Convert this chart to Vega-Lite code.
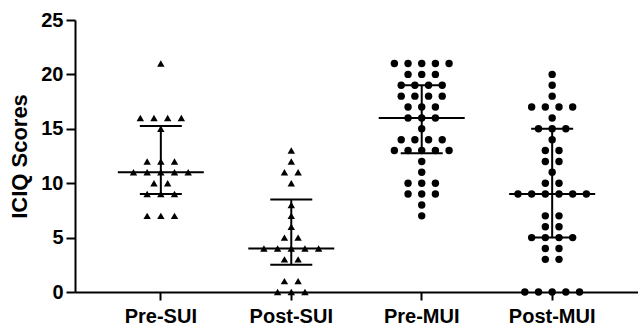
{
  "$schema": "https://vega.github.io/schema/vega-lite/v6.json",
  "width": 563,
  "height": 272,
  "autosize": {"type": "none"},
  "padding": {"left": 75, "top": 20, "right": 0, "bottom": 34},
  "config": {
    "view": {"stroke": null},
    "font": "Liberation Sans",
    "axis": {
      "domainColor": "#000000",
      "domainWidth": 2,
      "tickColor": "#000000",
      "tickWidth": 2,
      "labelColor": "#000000",
      "labelFont": "Liberation Sans",
      "labelFontSize": 20,
      "labelFontWeight": "bold",
      "titleColor": "#000000",
      "titleFont": "Liberation Sans",
      "titleFontSize": 22,
      "titleFontWeight": "bold",
      "grid": false
    }
  },
  "datasets": {
    "points": [
      {"g": "Pre-SUI", "v": 21, "s": 0},
      {"g": "Pre-SUI", "v": 16, "s": -1.5},
      {"g": "Pre-SUI", "v": 16, "s": -0.5},
      {"g": "Pre-SUI", "v": 16, "s": 0.5},
      {"g": "Pre-SUI", "v": 16, "s": 1.5},
      {"g": "Pre-SUI", "v": 15, "s": 0},
      {"g": "Pre-SUI", "v": 12, "s": -1},
      {"g": "Pre-SUI", "v": 12, "s": 0},
      {"g": "Pre-SUI", "v": 12, "s": 1},
      {"g": "Pre-SUI", "v": 11, "s": -2},
      {"g": "Pre-SUI", "v": 11, "s": -1},
      {"g": "Pre-SUI", "v": 11, "s": 0},
      {"g": "Pre-SUI", "v": 11, "s": 1},
      {"g": "Pre-SUI", "v": 11, "s": 2},
      {"g": "Pre-SUI", "v": 10, "s": -0.5},
      {"g": "Pre-SUI", "v": 10, "s": 0.5},
      {"g": "Pre-SUI", "v": 9, "s": -1},
      {"g": "Pre-SUI", "v": 9, "s": 0},
      {"g": "Pre-SUI", "v": 9, "s": 1},
      {"g": "Pre-SUI", "v": 7, "s": -1},
      {"g": "Pre-SUI", "v": 7, "s": 0},
      {"g": "Pre-SUI", "v": 7, "s": 1},

      {"g": "Post-SUI", "v": 13, "s": 0},
      {"g": "Post-SUI", "v": 12, "s": 0},
      {"g": "Post-SUI", "v": 11, "s": -0.5},
      {"g": "Post-SUI", "v": 11, "s": 0.5},
      {"g": "Post-SUI", "v": 10, "s": 0},
      {"g": "Post-SUI", "v": 8, "s": 0},
      {"g": "Post-SUI", "v": 7, "s": 0},
      {"g": "Post-SUI", "v": 6, "s": 0},
      {"g": "Post-SUI", "v": 5, "s": -0.5},
      {"g": "Post-SUI", "v": 5, "s": 0.5},
      {"g": "Post-SUI", "v": 4, "s": -2},
      {"g": "Post-SUI", "v": 4, "s": -1},
      {"g": "Post-SUI", "v": 4, "s": 0},
      {"g": "Post-SUI", "v": 4, "s": 1},
      {"g": "Post-SUI", "v": 4, "s": 2},
      {"g": "Post-SUI", "v": 3, "s": -0.5},
      {"g": "Post-SUI", "v": 3, "s": 0.5},
      {"g": "Post-SUI", "v": 1, "s": -0.5},
      {"g": "Post-SUI", "v": 1, "s": 0.5},
      {"g": "Post-SUI", "v": 0, "s": -1},
      {"g": "Post-SUI", "v": 0, "s": 0},
      {"g": "Post-SUI", "v": 0, "s": 1},

      {"g": "Pre-MUI", "v": 21, "s": -2},
      {"g": "Pre-MUI", "v": 21, "s": -1},
      {"g": "Pre-MUI", "v": 21, "s": 0},
      {"g": "Pre-MUI", "v": 21, "s": 1},
      {"g": "Pre-MUI", "v": 21, "s": 2},
      {"g": "Pre-MUI", "v": 20, "s": -1},
      {"g": "Pre-MUI", "v": 20, "s": 0},
      {"g": "Pre-MUI", "v": 20, "s": 1},
      {"g": "Pre-MUI", "v": 19, "s": -1.5},
      {"g": "Pre-MUI", "v": 19, "s": -0.5},
      {"g": "Pre-MUI", "v": 19, "s": 0.5},
      {"g": "Pre-MUI", "v": 19, "s": 1.5},
      {"g": "Pre-MUI", "v": 18, "s": -1.5},
      {"g": "Pre-MUI", "v": 18, "s": -0.5},
      {"g": "Pre-MUI", "v": 18, "s": 0.5},
      {"g": "Pre-MUI", "v": 18, "s": 1.5},
      {"g": "Pre-MUI", "v": 17, "s": -1},
      {"g": "Pre-MUI", "v": 17, "s": 0},
      {"g": "Pre-MUI", "v": 17, "s": 1},
      {"g": "Pre-MUI", "v": 16, "s": -1},
      {"g": "Pre-MUI", "v": 16, "s": 0},
      {"g": "Pre-MUI", "v": 16, "s": 1},
      {"g": "Pre-MUI", "v": 15, "s": 0},
      {"g": "Pre-MUI", "v": 14, "s": -1.5},
      {"g": "Pre-MUI", "v": 14, "s": -0.5},
      {"g": "Pre-MUI", "v": 14, "s": 0.5},
      {"g": "Pre-MUI", "v": 14, "s": 1.5},
      {"g": "Pre-MUI", "v": 13, "s": -2},
      {"g": "Pre-MUI", "v": 13, "s": -1},
      {"g": "Pre-MUI", "v": 13, "s": 0},
      {"g": "Pre-MUI", "v": 13, "s": 1},
      {"g": "Pre-MUI", "v": 13, "s": 2},
      {"g": "Pre-MUI", "v": 12, "s": 0},
      {"g": "Pre-MUI", "v": 11, "s": 0},
      {"g": "Pre-MUI", "v": 10, "s": -1},
      {"g": "Pre-MUI", "v": 10, "s": 0},
      {"g": "Pre-MUI", "v": 10, "s": 1},
      {"g": "Pre-MUI", "v": 9, "s": -1},
      {"g": "Pre-MUI", "v": 9, "s": 0},
      {"g": "Pre-MUI", "v": 9, "s": 1},
      {"g": "Pre-MUI", "v": 8, "s": 0},
      {"g": "Pre-MUI", "v": 7, "s": 0},

      {"g": "Post-MUI", "v": 20, "s": 0},
      {"g": "Post-MUI", "v": 19, "s": 0},
      {"g": "Post-MUI", "v": 18, "s": 0},
      {"g": "Post-MUI", "v": 17, "s": -1.5},
      {"g": "Post-MUI", "v": 17, "s": -0.5},
      {"g": "Post-MUI", "v": 17, "s": 0.5},
      {"g": "Post-MUI", "v": 17, "s": 1.5},
      {"g": "Post-MUI", "v": 16, "s": 0},
      {"g": "Post-MUI", "v": 15, "s": -1},
      {"g": "Post-MUI", "v": 15, "s": 0},
      {"g": "Post-MUI", "v": 15, "s": 1},
      {"g": "Post-MUI", "v": 14, "s": 0},
      {"g": "Post-MUI", "v": 13, "s": -0.5},
      {"g": "Post-MUI", "v": 13, "s": 0.5},
      {"g": "Post-MUI", "v": 12, "s": -0.5},
      {"g": "Post-MUI", "v": 12, "s": 0.5},
      {"g": "Post-MUI", "v": 11, "s": 0},
      {"g": "Post-MUI", "v": 10, "s": -0.5},
      {"g": "Post-MUI", "v": 10, "s": 0.5},
      {"g": "Post-MUI", "v": 9, "s": -2.5},
      {"g": "Post-MUI", "v": 9, "s": -1.5},
      {"g": "Post-MUI", "v": 9, "s": -0.5},
      {"g": "Post-MUI", "v": 9, "s": 0.5},
      {"g": "Post-MUI", "v": 9, "s": 1.5},
      {"g": "Post-MUI", "v": 9, "s": 2.5},
      {"g": "Post-MUI", "v": 7, "s": -0.5},
      {"g": "Post-MUI", "v": 7, "s": 0.5},
      {"g": "Post-MUI", "v": 6, "s": -0.5},
      {"g": "Post-MUI", "v": 6, "s": 0.5},
      {"g": "Post-MUI", "v": 5, "s": -1.5},
      {"g": "Post-MUI", "v": 5, "s": -0.5},
      {"g": "Post-MUI", "v": 5, "s": 0.5},
      {"g": "Post-MUI", "v": 5, "s": 1.5},
      {"g": "Post-MUI", "v": 4, "s": -0.5},
      {"g": "Post-MUI", "v": 4, "s": 0.5},
      {"g": "Post-MUI", "v": 3, "s": -0.5},
      {"g": "Post-MUI", "v": 3, "s": 0.5},
      {"g": "Post-MUI", "v": 0, "s": -2},
      {"g": "Post-MUI", "v": 0, "s": -1},
      {"g": "Post-MUI", "v": 0, "s": 0},
      {"g": "Post-MUI", "v": 0, "s": 1},
      {"g": "Post-MUI", "v": 0, "s": 2}
    ],
    "summary": [
      {"g": "Pre-SUI", "median": 11, "q1": 9, "q3": 15.25},
      {"g": "Post-SUI", "median": 4, "q1": 2.5, "q3": 8.5},
      {"g": "Pre-MUI", "median": 16, "q1": 12.75, "q3": 19},
      {"g": "Post-MUI", "median": 9, "q1": 5, "q3": 15}
    ]
  },
  "encoding": {
    "x": {
      "field": "g",
      "type": "nominal",
      "sort": ["Pre-SUI", "Post-SUI", "Pre-MUI", "Post-MUI"],
      "scale": {"domain": ["Pre-SUI", "Post-SUI", "Pre-MUI", "Post-MUI"], "paddingInner": 0, "paddingOuter": 0.158},
      "axis": {"title": null, "labelAngle": 0, "tickSize": 8, "labelPadding": 6, "ticks": true, "tickBand": "center"}
    }
  },
  "layer": [
    {
      "data": {"name": "summary"},
      "mark": {"type": "rule", "color": "#000000", "strokeWidth": 2},
      "encoding": {
        "y": {
          "field": "q1",
          "type": "quantitative",
          "scale": {"domain": [0, 25], "nice": false},
          "axis": {"title": "ICIQ Scores", "values": [0, 5, 10, 15, 20, 25], "tickSize": 9, "labelPadding": 3, "titlePadding": 9}
        },
        "y2": {"field": "q3"}
      }
    },
    {
      "data": {"name": "summary"},
      "mark": {"type": "tick", "color": "#000000", "size": 86, "thickness": 2, "opacity": 1},
      "encoding": {"y": {"field": "median", "type": "quantitative"}}
    },
    {
      "data": {"name": "summary"},
      "mark": {"type": "tick", "color": "#000000", "size": 42, "thickness": 2, "opacity": 1},
      "encoding": {"y": {"field": "q1", "type": "quantitative"}}
    },
    {
      "data": {"name": "summary"},
      "mark": {"type": "tick", "color": "#000000", "size": 42, "thickness": 2, "opacity": 1},
      "encoding": {"y": {"field": "q3", "type": "quantitative"}}
    },
    {
      "data": {"name": "points"},
      "mark": {"type": "point", "filled": true, "color": "#000000", "opacity": 1, "strokeWidth": 0},
      "encoding": {
        "y": {"field": "v", "type": "quantitative"},
        "xOffset": {"field": "s", "type": "quantitative", "scale": {"domain": [-4.77, 4.77]}},
        "shape": {
          "field": "g",
          "type": "nominal",
          "scale": {"domain": ["Pre-SUI", "Post-SUI", "Pre-MUI", "Post-MUI"], "range": ["triangle-up", "triangle-up", "circle", "circle"]},
          "legend": null
        },
        "size": {
          "field": "g",
          "type": "nominal",
          "scale": {"domain": ["Pre-SUI", "Post-SUI", "Pre-MUI", "Post-MUI"], "range": [55, 55, 48, 48]},
          "legend": null
        }
      }
    }
  ]
}
